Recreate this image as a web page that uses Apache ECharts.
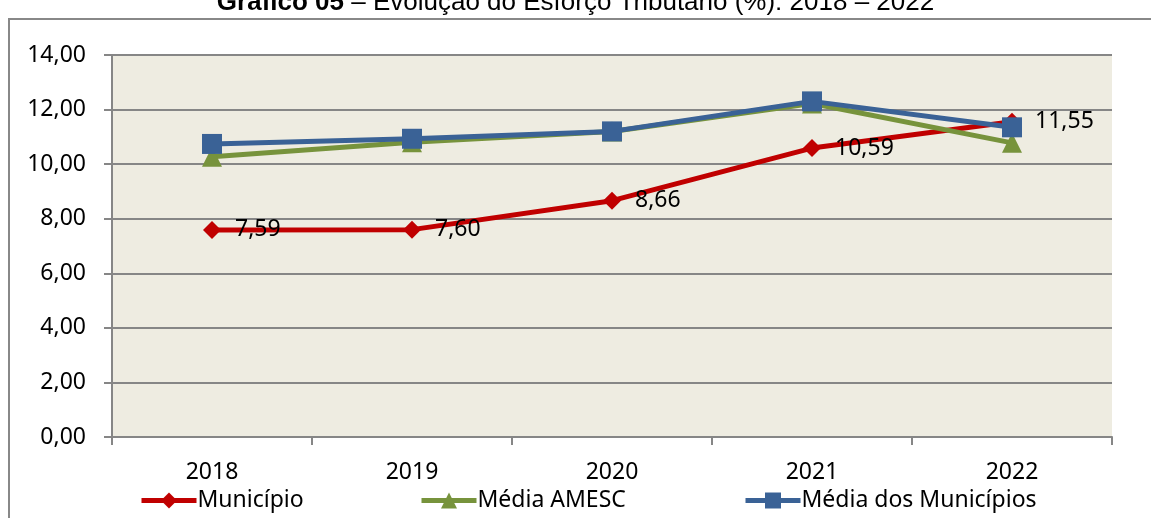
<!DOCTYPE html>
<html>
<head>
<meta charset="utf-8">
<script src="https://cdn.jsdelivr.net/npm/echarts@6/dist/echarts.min.js"></script>
<style>
  html, body { margin: 0; padding: 0; background: #fff; }
  #chart { width: 1151px; height: 518px; }
</style>
</head>
<body>
<div id="chart"></div>
<script>
// dados do gráfico
const anos = ['2018', '2019', '2020', '2021', '2022']
const municipio = [7.59, 7.60, 8.66, 10.59, 11.55]
const mediaAmesc = [10.27, 10.80, 11.20, 12.22, 10.78]
const mediaMunicipios = [10.74, 10.93, 11.20, 12.30, 11.35]
const yTicks = [0, 2, 4, 6, 8, 10, 12, 14]

const fmt = v => Number(v).toFixed(2).replace('.', ',')
const fonte = 'Noto Sans'

const chart = echarts.init(document.getElementById('chart'))

const legendBase = {
  bottom: 1,
  itemWidth: 55,
  itemHeight: 20,
  itemGap: 4,
  lineStyle: { width: 5 },
  textStyle: { fontFamily: fonte, fontSize: 23, color: '#000', padding: [0, 0, 0, -4] }
}

const option = {
  animation: false,
  title: {
    text: '{b|Gráfico 05} – Evolução do Esforço Tributário (%): 2018 – 2022',
    left: 'center',
    top: -15,
    textStyle: {
      fontFamily: 'Liberation Sans',
      fontSize: 26,
      fontWeight: 'normal',
      color: '#000',
      rich: {
        b: { fontFamily: 'Liberation Sans', fontSize: 26, fontWeight: 'bold', color: '#000' }
      }
    }
  },
  graphic: [{
    type: 'rect',
    shape: { x: 9, y: 19, width: 1160, height: 520 },
    style: { fill: 'none', stroke: '#888', lineWidth: 2 },
    z: -1
  }],
  grid: {
    left: 112, right: 39, top: 55, bottom: 81,
    show: true,
    backgroundColor: '#EEECE1',
    borderWidth: 0
  },
  legend: [
    Object.assign({}, legendBase, { left: 134, data: ['Município'] }),
    Object.assign({}, legendBase, { left: 414, data: ['Média AMESC'] }),
    Object.assign({}, legendBase, { left: 738, data: ['Média dos Municípios'] })
  ],
  xAxis: {
    type: 'category',
    data: anos,
    boundaryGap: true,
    axisLine: { lineStyle: { color: '#868686', width: 2 } },
    axisTick: { show: true, length: 8, lineStyle: { color: '#868686', width: 2 } },
    axisLabel: { fontFamily: fonte, fontSize: 23, color: '#000', margin: 24 }
  },
  yAxis: {
    type: 'value',
    min: yTicks[0],
    max: yTicks[yTicks.length - 1],
    interval: 2,
    axisLine: { show: true, lineStyle: { color: '#868686', width: 2 } },
    axisTick: { show: true, length: 8, lineStyle: { color: '#868686', width: 2 } },
    splitLine: { lineStyle: { color: '#868686', width: 2 } },
    axisLabel: { fontFamily: fonte, fontSize: 23, color: '#000', margin: 26, formatter: fmt }
  },
  series: [
    {
      name: 'Município',
      type: 'line',
      data: municipio,
      symbol: 'diamond',
      symbolSize: 18,
      z: 3,
      lineStyle: { color: '#C00000', width: 5 },
      itemStyle: { color: '#C00000' },
      label: {
        show: true,
        position: 'right',
        distance: 14,
        fontFamily: fonte,
        fontSize: 23,
        color: '#000',
        formatter: p => fmt(p.value)
      }
    },
    {
      name: 'Média AMESC',
      type: 'line',
      data: mediaAmesc,
      symbol: 'triangle',
      symbolSize: 20,
      z: 4,
      lineStyle: { color: '#77933C', width: 5 },
      itemStyle: { color: '#77933C' }
    },
    {
      name: 'Média dos Municípios',
      type: 'line',
      data: mediaMunicipios,
      symbol: 'rect',
      symbolSize: 20,
      z: 5,
      lineStyle: { color: '#3A6296', width: 5 },
      itemStyle: { color: '#3A6296' }
    }
  ]
}

chart.setOption(option)
</script>
</body>
</html>
